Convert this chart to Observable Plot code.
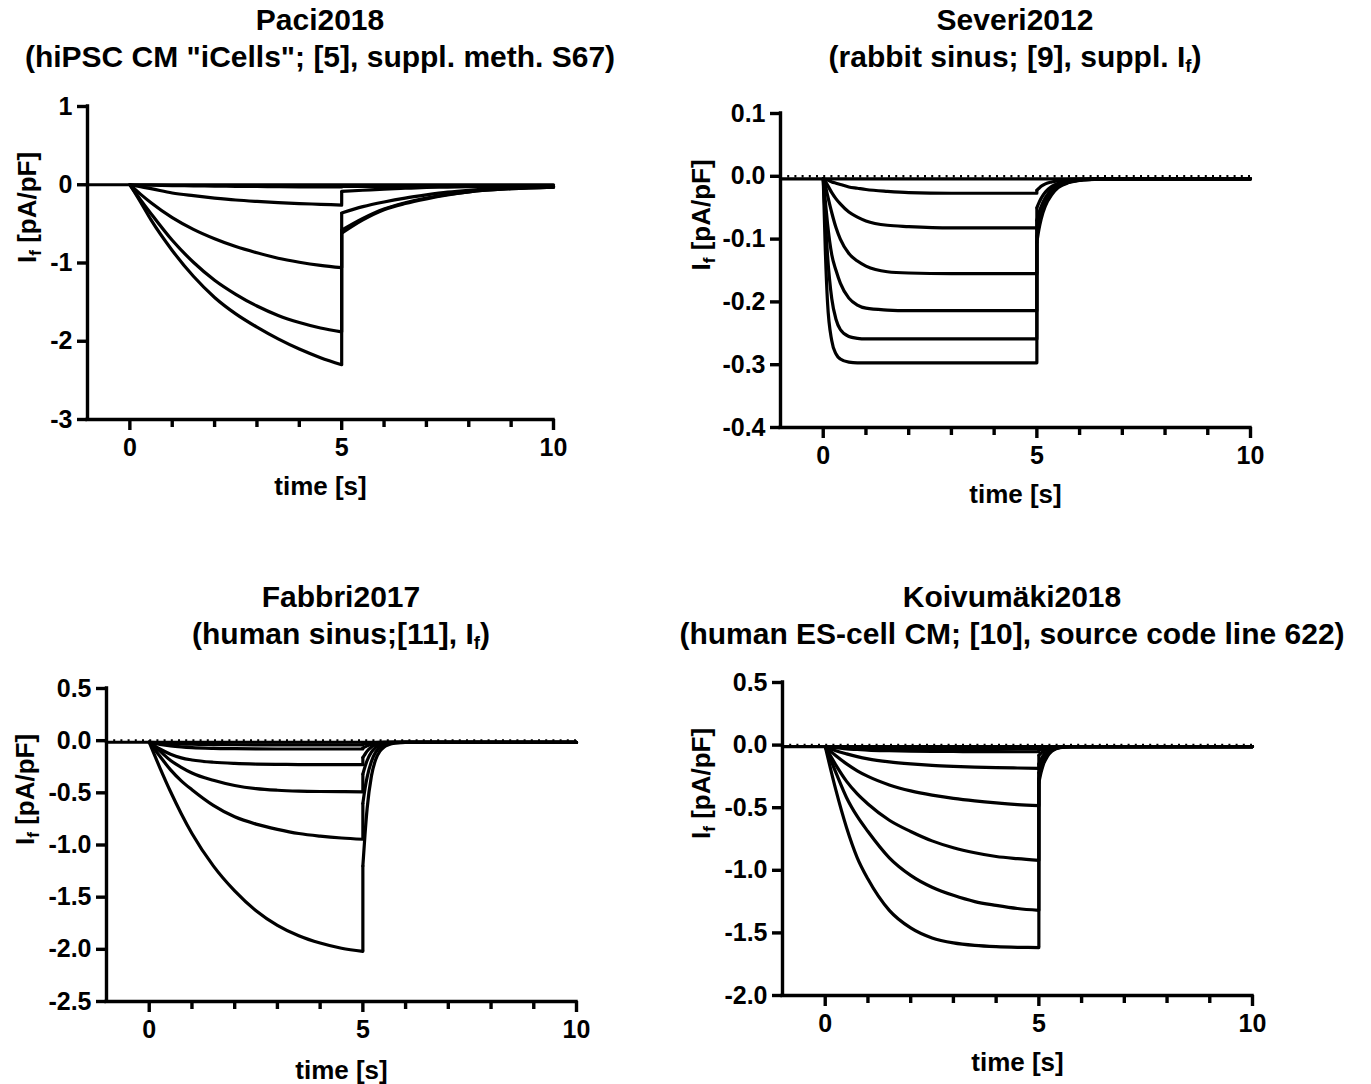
<!DOCTYPE html>
<html>
<head>
<meta charset="utf-8">
<script src="https://cdn.jsdelivr.net/npm/d3@7"></script>
<script src="https://cdn.jsdelivr.net/npm/@observablehq/plot@0.6"></script>
<style>
  html, body { margin: 0; padding: 0; background: white; }
  #root { position: relative; width: 1371px; height: 1084px; overflow: hidden; background: white;
          font-family: "Liberation Sans", Arial, sans-serif; font-weight: bold; color: black; }
  .title { position: absolute; width: 800px; text-align: center; font-size: 30px; line-height: 37px; }
  .title sub { font-size: 0.62em; vertical-align: -0.25em; line-height: 0; }
  .panel { position: absolute; }
  .panel svg { overflow: visible; }
</style>
</head>
<body>
<div id="root"></div>
<script>
// ---------- shared ----------
const xTicksMajor = [0, 5, 10];
const xTickLabels = ["0", "5", "10"];
const xTicksMinor = [1, 2, 3, 4, 6, 7, 8, 9];
const xLabelText = "time [s]";

// ---------- Paci2018 ----------
const paciTitle = ["Paci2018", '(hiPSC CM "iCells"; [5], suppl. meth. S67)'];
const paciYTicks = [1, 0, -1, -2, -3];
const paciYTickLabels = ["1", "0", "-1", "-2", "-3"];
const paciBaseT = [-1, 10];
const paciBaseV = [0, 0];
const paciTimesOn = [0, 0.25, 0.5, 1, 1.5, 2, 2.5, 3, 3.5, 4, 4.5, 5];
const paciCurvesOn = [
  [0, -0.003, -0.006, -0.01, -0.014, -0.017, -0.02, -0.022, -0.024, -0.026, -0.027, -0.028],
  [0, -0.025, -0.05, -0.105, -0.14, -0.17, -0.195, -0.213, -0.228, -0.24, -0.25, -0.26],
  [0, -0.12, -0.23, -0.42, -0.57, -0.69, -0.79, -0.87, -0.94, -0.99, -1.03, -1.06],
  [0, -0.19, -0.37, -0.71, -0.99, -1.22, -1.40, -1.55, -1.67, -1.76, -1.83, -1.88],
  [0, -0.22, -0.45, -0.84, -1.17, -1.44, -1.65, -1.82, -1.97, -2.10, -2.21, -2.30]
];
const paciTimesOff = [5, 5.5, 6, 6.5, 7, 7.5, 8, 9, 10];
const paciCurvesOff = [
  [-0.02, -0.02, -0.02, -0.02, -0.02, -0.02, -0.02, -0.02, -0.02],
  [-0.085, -0.07, -0.055, -0.045, -0.035, -0.03, -0.025, -0.022, -0.02],
  [-0.36, -0.28, -0.22, -0.17, -0.13, -0.095, -0.07, -0.04, -0.03],
  [-0.58, -0.43, -0.31, -0.23, -0.17, -0.125, -0.09, -0.05, -0.03],
  [-0.62, -0.45, -0.32, -0.24, -0.18, -0.13, -0.09, -0.05, -0.03]
];

// ---------- Severi2012 ----------
const sevTitle = ["Severi2012", "(rabbit sinus; [9], suppl. I<sub>f</sub>)"];
const sevYTicks = [0.1, 0, -0.1, -0.2, -0.3, -0.4];
const sevYTickLabels = ["0.1", "0.0", "-0.1", "-0.2", "-0.3", "-0.4"];
const sevBaseT = [-1, 10];
const sevBaseV = [-0.004, -0.004];
const sevTimesOn = [0, 0.05, 0.1, 0.2, 0.3, 0.4, 0.6, 0.8, 1, 1.5, 2, 3, 4, 5];
const sevCurvesOn = [
  [-0.004, -0.005, -0.006, -0.009, -0.011, -0.013, -0.017, -0.019, -0.021, -0.024, -0.026, -0.027, -0.027, -0.027],
  [-0.004, -0.008, -0.014, -0.026, -0.036, -0.044, -0.057, -0.065, -0.071, -0.078, -0.080, -0.082, -0.082, -0.082],
  [-0.004, -0.015, -0.03, -0.058, -0.082, -0.100, -0.123, -0.135, -0.143, -0.152, -0.154, -0.155, -0.155, -0.155],
  [-0.004, -0.04, -0.075, -0.125, -0.150, -0.170, -0.194, -0.205, -0.210, -0.213, -0.214, -0.214, -0.214, -0.214],
  [-0.004, -0.07, -0.125, -0.195, -0.228, -0.244, -0.255, -0.258, -0.259, -0.259, -0.259, -0.259, -0.259, -0.259],
  [-0.004, -0.12, -0.20, -0.262, -0.283, -0.291, -0.296, -0.297, -0.297, -0.297, -0.297, -0.297, -0.297, -0.297]
];
const sevTimesOff = [5, 5.05, 5.1, 5.2, 5.35, 5.5, 5.75, 6, 6.5, 7, 10];
const sevCurvesOff = [
  [-0.022, -0.019, -0.016, -0.012, -0.009, -0.007, -0.005, -0.0045, -0.004, -0.004, -0.004],
  [-0.05, -0.042, -0.035, -0.025, -0.016, -0.011, -0.007, -0.005, -0.004, -0.004, -0.004],
  [-0.07, -0.058, -0.048, -0.034, -0.021, -0.014, -0.008, -0.006, -0.0045, -0.004, -0.004],
  [-0.085, -0.07, -0.057, -0.04, -0.025, -0.016, -0.009, -0.006, -0.0045, -0.004, -0.004],
  [-0.095, -0.077, -0.063, -0.044, -0.027, -0.017, -0.009, -0.006, -0.0045, -0.004, -0.004],
  [-0.105, -0.084, -0.068, -0.047, -0.029, -0.018, -0.01, -0.0065, -0.0045, -0.004, -0.004]
];

// ---------- Fabbri2017 ----------
const fabTitle = ["Fabbri2017", "(human sinus;[11], I<sub>f</sub>)"];
const fabYTicks = [0.5, 0, -0.5, -1, -1.5, -2, -2.5];
const fabYTickLabels = ["0.5", "0.0", "-0.5", "-1.0", "-1.5", "-2.0", "-2.5"];
const fabBaseT = [-1, 10];
const fabBaseV = [-0.015, -0.015];
const fabTimesOn = [0, 0.25, 0.5, 0.75, 1, 1.5, 2, 2.5, 3, 3.5, 4, 4.5, 5];
const fabCurvesOn = [
  [-0.015, -0.02, -0.027, -0.031, -0.034, -0.037, -0.039, -0.04, -0.04, -0.04, -0.04, -0.04, -0.04],
  [-0.015, -0.035, -0.05, -0.06, -0.067, -0.074, -0.077, -0.079, -0.08, -0.08, -0.08, -0.08, -0.08],
  [-0.015, -0.08, -0.13, -0.165, -0.185, -0.207, -0.218, -0.224, -0.227, -0.229, -0.23, -0.23, -0.23],
  [-0.015, -0.1, -0.19, -0.255, -0.31, -0.38, -0.43, -0.46, -0.475, -0.483, -0.487, -0.489, -0.49],
  [-0.015, -0.15, -0.28, -0.385, -0.47, -0.62, -0.73, -0.80, -0.85, -0.89, -0.915, -0.933, -0.945],
  [-0.015, -0.26, -0.49, -0.70, -0.89, -1.20, -1.44, -1.63, -1.77, -1.87, -1.94, -1.99, -2.02]
];
const fabTimesOff = [5, 5.05, 5.1, 5.2, 5.3, 5.4, 5.5, 5.6, 5.75, 6, 7, 10];
const fabCurvesOff = [
  [-0.035, -0.03, -0.026, -0.021, -0.018, -0.016, -0.015, -0.015, -0.015, -0.015, -0.015, -0.015],
  [-0.07, -0.06, -0.05, -0.035, -0.026, -0.02, -0.017, -0.016, -0.015, -0.015, -0.015, -0.015],
  [-0.16, -0.13, -0.1, -0.06, -0.04, -0.027, -0.02, -0.017, -0.015, -0.015, -0.015, -0.015],
  [-0.32, -0.25, -0.19, -0.11, -0.065, -0.04, -0.028, -0.021, -0.017, -0.015, -0.015, -0.015],
  [-0.6, -0.46, -0.35, -0.2, -0.11, -0.065, -0.042, -0.03, -0.02, -0.016, -0.015, -0.015],
  [-1.2, -0.9, -0.65, -0.34, -0.18, -0.10, -0.06, -0.04, -0.024, -0.017, -0.015, -0.015]
];

// ---------- Koivumäki2018 ----------
const koiTitle = ["Koivumäki2018", "(human ES-cell CM; [10], source code line 622)"];
const koiYTicks = [0.5, 0, -0.5, -1, -1.5, -2];
const koiYTickLabels = ["0.5", "0.0", "-0.5", "-1.0", "-1.5", "-2.0"];
const koiBaseT = [-1, 10];
const koiBaseV = [-0.012, -0.012];
const koiTimesOn = [0, 0.25, 0.5, 0.75, 1, 1.5, 2, 2.5, 3, 3.5, 4, 4.5, 5];
const koiCurvesOn = [
  [-0.012, -0.015, -0.02, -0.023, -0.025, -0.027, -0.028, -0.029, -0.03, -0.03, -0.03, -0.03, -0.03],
  [-0.012, -0.02, -0.03, -0.035, -0.04, -0.045, -0.048, -0.05, -0.051, -0.052, -0.052, -0.053, -0.053],
  [-0.012, -0.045, -0.07, -0.092, -0.11, -0.134, -0.15, -0.162, -0.17, -0.176, -0.18, -0.183, -0.186],
  [-0.012, -0.085, -0.15, -0.205, -0.25, -0.318, -0.366, -0.40, -0.426, -0.446, -0.462, -0.475, -0.484],
  [-0.012, -0.16, -0.29, -0.39, -0.47, -0.60, -0.69, -0.765, -0.82, -0.86, -0.89, -0.907, -0.92],
  [-0.012, -0.22, -0.42, -0.57, -0.69, -0.90, -1.04, -1.135, -1.2, -1.25, -1.28, -1.305, -1.32],
  [-0.012, -0.36, -0.66, -0.90, -1.07, -1.32, -1.46, -1.54, -1.58, -1.60, -1.61, -1.615, -1.617]
];
const koiTimesOff = [5, 5.05, 5.1, 5.2, 5.3, 5.4, 5.5, 5.75, 6, 7, 10];
const koiCurvesOff = [
  [-0.025, -0.022, -0.019, -0.015, -0.013, -0.012, -0.012, -0.012, -0.012, -0.012, -0.012],
  [-0.04, -0.035, -0.03, -0.022, -0.016, -0.013, -0.012, -0.012, -0.012, -0.012, -0.012],
  [-0.08, -0.065, -0.05, -0.032, -0.021, -0.015, -0.013, -0.012, -0.012, -0.012, -0.012],
  [-0.15, -0.115, -0.085, -0.05, -0.03, -0.02, -0.015, -0.012, -0.012, -0.012, -0.012],
  [-0.22, -0.165, -0.12, -0.067, -0.038, -0.024, -0.017, -0.013, -0.012, -0.012, -0.012],
  [-0.27, -0.2, -0.145, -0.08, -0.045, -0.027, -0.019, -0.013, -0.012, -0.012, -0.012],
  [-0.30, -0.22, -0.16, -0.09, -0.05, -0.03, -0.02, -0.013, -0.012, -0.012, -0.012]
];

// ---------- rendering ----------
const FONT = '"Liberation Sans", Arial, Helvetica, sans-serif';
const LW = 3.2;
const AW = 3.4;
const TICK_FS = 25;
const ML = 100, MR = 24, MT = 14, MB = 95;

function rows(times, curves, seg) {
  return curves.flatMap((vals, i) => vals.map((v, j) => ({t: times[j], v, id: seg + i})));
}

function drawPanel(cfg) {
  const root = document.getElementById("root");
  const fw = cfg.frame.right - cfg.frame.left;
  const fh = cfg.frame.bottom - cfg.frame.top;
  const width = ML + fw + MR, height = MT + fh + MB;

  const on = rows(cfg.timesOn, cfg.curvesOn, "on");
  const off = rows(cfg.timesOff, cfg.curvesOff, "off");
  const base = cfg.baseT.map((t, i) => ({t, v: cfg.baseV[i], id: "base"}));
  const tEnd = cfg.timesOn[cfg.timesOn.length - 1];
  const jumps = cfg.curvesOn.map((c, i) => ({t: tEnd, y1: c[c.length - 1], y2: cfg.curvesOff[i][0]}));
  const yMin = d3.min(cfg.yTicks);

  const marks = [];
  if (cfg.dotted) marks.push(Plot.ruleY([0], {stroke: "black", strokeWidth: 2.6, strokeDasharray: "2,5.2"}));
  marks.push(
    Plot.line(base, {x: "t", y: "v", z: "id", stroke: "black", strokeWidth: LW}),
    Plot.line(on, {x: "t", y: "v", z: "id", stroke: "black", strokeWidth: LW, curve: "monotone-x", strokeLinejoin: "round"}),
    Plot.line(off, {x: "t", y: "v", z: "id", stroke: "black", strokeWidth: LW, curve: "monotone-x", strokeLinejoin: "round"}),
    Plot.ruleX(jumps, {x: "t", y1: "y1", y2: "y2", stroke: "black", strokeWidth: LW}),
    Plot.ruleX([-1], {stroke: "black", strokeWidth: AW, strokeLinecap: "square"}),
    Plot.ruleY([yMin], {stroke: "black", strokeWidth: AW, strokeLinecap: "square"}),
    Plot.axisY({ticks: cfg.yTicks, tickSize: 10, tickPadding: 5, strokeWidth: AW, label: null,
      tickFormat: d => cfg.yTickLabels[cfg.yTicks.indexOf(d)]}),
    Plot.axisX({ticks: xTicksMajor, tickSize: 11, tickPadding: 8, strokeWidth: AW, label: null,
      tickFormat: d => xTickLabels[xTicksMajor.indexOf(d)]}),
    Plot.axisX({ticks: xTicksMinor, tickSize: 8, strokeWidth: AW, label: null, tickFormat: () => ""}),
    Plot.text([xLabelText], {frameAnchor: "bottom", dy: cfg.xLabelDy, fontSize: 26, text: d => d}),
    Plot.text(["YLABEL"], {frameAnchor: "left", dx: -cfg.yLabelDx, rotate: -90, fontSize: 26, text: d => d})
  );

  const svg = Plot.plot({
    width, height,
    marginLeft: ML, marginRight: MR, marginTop: MT, marginBottom: MB,
    x: {domain: [-1, 10]},
    y: {domain: [yMin, d3.max(cfg.yTicks)]},
    style: {fontFamily: FONT, fontWeight: "bold", fontSize: TICK_FS + "px", background: "transparent", overflow: "visible"},
    marks
  });

  svg.querySelectorAll('g[aria-label$="tick label"]').forEach(g => {
    g.setAttribute("font-size", TICK_FS);
    g.style.fontSize = TICK_FS + "px";
  });

  svg.querySelectorAll("text").forEach(t => {
    if (t.textContent === "YLABEL") {
      t.textContent = "";
      const ns = "http://www.w3.org/2000/svg";
      const a = document.createElementNS(ns, "tspan"); a.textContent = "I";
      const b = document.createElementNS(ns, "tspan"); b.textContent = "f";
      b.setAttribute("font-size", "17"); b.setAttribute("dy", "5");
      const c = document.createElementNS(ns, "tspan"); c.textContent = " [pA/pF]";
      c.setAttribute("dy", "-5");
      t.append(a, b, c);
    }
  });

  const div = document.createElement("div");
  div.className = "panel";
  div.style.left = (cfg.frame.left - ML) + "px";
  div.style.top = (cfg.frame.top - MT) + "px";
  div.appendChild(svg);
  root.appendChild(div);

  const title = document.createElement("div");
  title.className = "title";
  title.style.left = (cfg.titleCx - 400) + "px";
  title.style.top = cfg.titleTop + "px";
  title.innerHTML = cfg.title[0] + "<br>" + cfg.title[1];
  root.appendChild(title);
}

drawPanel({title: paciTitle, titleCx: 320, titleTop: 1, frame: {left: 87, right: 553, top: 106, bottom: 419},
  yTicks: paciYTicks, yTickLabels: paciYTickLabels, baseT: paciBaseT, baseV: paciBaseV,
  timesOn: paciTimesOn, curvesOn: paciCurvesOn, timesOff: paciTimesOff, curvesOff: paciCurvesOff,
  dotted: false, xLabelDy: 75, yLabelDx: 60});
drawPanel({title: sevTitle, titleCx: 1015, titleTop: 1, frame: {left: 780, right: 1250, top: 113, bottom: 427},
  yTicks: sevYTicks, yTickLabels: sevYTickLabels, baseT: sevBaseT, baseV: sevBaseV,
  timesOn: sevTimesOn, curvesOn: sevCurvesOn, timesOff: sevTimesOff, curvesOff: sevCurvesOff,
  dotted: true, xLabelDy: 75, yLabelDx: 79});
drawPanel({title: fabTitle, titleCx: 341, titleTop: 578, frame: {left: 106, right: 576, top: 688, bottom: 1001},
  yTicks: fabYTicks, yTickLabels: fabYTickLabels, baseT: fabBaseT, baseV: fabBaseV,
  timesOn: fabTimesOn, curvesOn: fabCurvesOn, timesOff: fabTimesOff, curvesOff: fabCurvesOff,
  dotted: true, xLabelDy: 77, yLabelDx: 81});
drawPanel({title: koiTitle, titleCx: 1012, titleTop: 578, frame: {left: 782, right: 1252, top: 682, bottom: 995},
  yTicks: koiYTicks, yTickLabels: koiYTickLabels, baseT: koiBaseT, baseV: koiBaseV,
  timesOn: koiTimesOn, curvesOn: koiCurvesOn, timesOff: koiTimesOff, curvesOff: koiCurvesOff,
  dotted: true, xLabelDy: 75, yLabelDx: 81});
</script>
</body>
</html>
